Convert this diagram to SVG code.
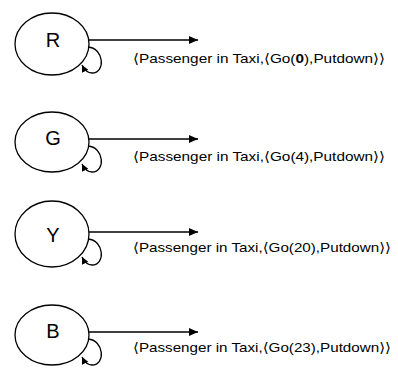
<svg xmlns="http://www.w3.org/2000/svg" width="398" height="370" viewBox="0 0 398 370">
<style>
.node{fill:#fff;stroke:#000;stroke-width:1.3}
.lbl{font-family:"Liberation Sans",Arial,sans-serif;font-size:20px;fill:#000;text-anchor:middle}
.edge{fill:none;stroke:#000;stroke-width:1.3}
.txt{font-family:"Liberation Sans",Arial,"DejaVu Sans",sans-serif;font-size:13.5px;fill:#000}
</style>
<defs>
<marker id="ah" markerWidth="10" markerHeight="8" refX="9" refY="4" orient="auto" markerUnits="userSpaceOnUse">
<path d="M0,0 L9,4 L0,8 Z" fill="#000"/>
</marker>
<marker id="ahs" markerWidth="8" markerHeight="8" refX="7" refY="4" orient="auto" markerUnits="userSpaceOnUse">
<path d="M0,0.5 L7,4 L0,7.5 Z" fill="#000"/>
</marker>
</defs>
<g id="node-R"><ellipse class="node" cx="52" cy="44" rx="37" ry="31"/><text class="lbl" x="53" y="47">R</text></g>
<g id="node-G"><ellipse class="node" cx="52" cy="142" rx="37" ry="30"/><text class="lbl" x="53" y="145">G</text></g>
<g id="node-Y"><ellipse class="node" cx="52" cy="234" rx="37" ry="33"/><text class="lbl" x="53" y="242">Y</text></g>
<g id="node-B"><ellipse class="node" cx="52" cy="335" rx="37" ry="30"/><text class="lbl" x="53" y="338">B</text></g>
<g id="connectors">
<path class="edge" d="M89,40 H198" marker-end="url(#ah)"/>
<path class="edge" d="M88,47 C104,48 106,73 92,73 C87,73 84,69 82,65" marker-end="url(#ahs)"/>
<path class="edge" d="M89,139 H198" marker-end="url(#ah)"/>
<path class="edge" d="M88,146 C104,147 106,172 92,172 C87,172 84,168 82,164" marker-end="url(#ahs)"/>
<path class="edge" d="M89,232 H198" marker-end="url(#ah)"/>
<path class="edge" d="M88,239 C104,240 106,265 92,265 C87,265 84,261 82,257" marker-end="url(#ahs)"/>
<path class="edge" d="M89,332 H198" marker-end="url(#ah)"/>
<path class="edge" d="M88,339 C104,340 106,365 92,365 C87,365 84,361 82,357" marker-end="url(#ahs)"/>
</g>
<g id="labels">
<text class="txt" x="133" y="63" textLength="252" lengthAdjust="spacingAndGlyphs">⟨Passenger in Taxi,⟨Go(<tspan font-weight="bold">0</tspan>),Putdown⟩⟩</text>
<text class="txt" x="133" y="161" textLength="252" lengthAdjust="spacingAndGlyphs">⟨Passenger in Taxi,⟨Go(4),Putdown⟩⟩</text>
<text class="txt" x="133" y="252" textLength="258" lengthAdjust="spacingAndGlyphs">⟨Passenger in Taxi,⟨Go(20),Putdown⟩⟩</text>
<text class="txt" x="133" y="352" textLength="258" lengthAdjust="spacingAndGlyphs">⟨Passenger in Taxi,⟨Go(23),Putdown⟩⟩</text>
</g>
</svg>
